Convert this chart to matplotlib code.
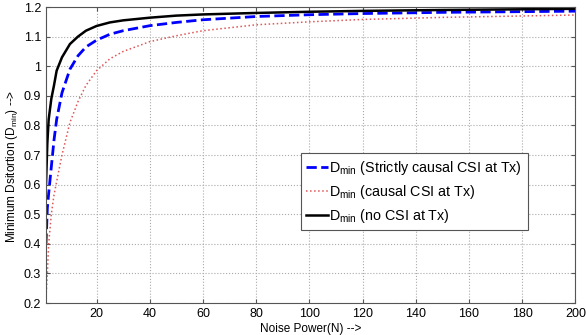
import numpy as np
import matplotlib
matplotlib.use("Agg")
import matplotlib.pyplot as plt
from matplotlib.ticker import FormatStrFormatter

plt.rcParams['font.family'] = ['Liberation Sans', 'DejaVu Sans']
plt.rcParams['mathtext.default'] = 'regular'

# noise power samples and minimum distortion
noise = [1, 1.5, 2, 3, 4, 5, 7, 10, 13, 16, 20, 25, 30, 40, 50, 60, 80, 100, 120, 150, 200]
d_strict = [0.40, 0.52, 0.57, 0.66, 0.75, 0.82, 0.91, 0.99, 1.035, 1.065, 1.088, 1.108,
            1.12, 1.137, 1.148, 1.157, 1.168, 1.174, 1.178, 1.182, 1.186]
d_causal = [0.22, 0.30, 0.40, 0.50, 0.565, 0.61, 0.70, 0.81, 0.88, 0.935, 0.985, 1.025,
            1.05, 1.083, 1.103, 1.12, 1.14, 1.15, 1.158, 1.165, 1.173]
d_nocsi = [0.60, 0.74, 0.82, 0.89, 0.935, 0.985, 1.03, 1.075, 1.10, 1.12, 1.136, 1.148,
           1.155, 1.164, 1.171, 1.175, 1.180, 1.184, 1.187, 1.190, 1.194]

fig = plt.figure(figsize=(5.86, 3.35), dpi=100)
ax = fig.add_axes([0.0785, 0.0955, 0.9035, 0.8835])

ax.plot(noise, d_strict, '--', color='#0000ff', lw=2.0,
        label=r'D$_{min}$ (Strictly causal CSI at Tx)')
ax.plot(noise, d_causal, ':', color='#e05555', lw=1.1,
        label=r'D$_{min}$ (causal CSI at Tx)')
ax.plot(noise, d_nocsi, '-', color='black', lw=1.8,
        label=r'D$_{min}$ (no CSI at Tx)')

ax.set_xlim(1, 200)
ax.set_ylim(0.2, 1.2)
ax.set_xticks(np.arange(20, 201, 20))
ax.set_yticks(np.arange(0.2, 1.21, 0.1))
ax.yaxis.set_major_formatter(FormatStrFormatter('%g'))
ax.tick_params(direction='in', top=True, right=True, labelsize=9, length=3,
               color='#555555')
for s in ax.spines.values():
    s.set_color('#555555')
    s.set_linewidth(0.8)
ax.grid(True, linestyle=':', color='#aaaaaa', lw=0.8)

ax.set_xlabel('Noise Power(N) -->', fontsize=8.5, labelpad=2)
ax.set_ylabel(r'Minimum Dsitortion (D$_{min}$) -->', fontsize=8.5)
ax.yaxis.set_label_coords(-0.05, 0.46)

leg = ax.legend(loc='upper right', bbox_to_anchor=(0.91, 0.507), fontsize=10.3,
                handlelength=1.5, handletextpad=0.1, borderpad=0.4,
                labelspacing=0.42, borderaxespad=0, fancybox=False, framealpha=1)
leg.get_frame().set_edgecolor('#555555')
leg.get_frame().set_linewidth(0.8)

fig.savefig('out.png', dpi=100)
